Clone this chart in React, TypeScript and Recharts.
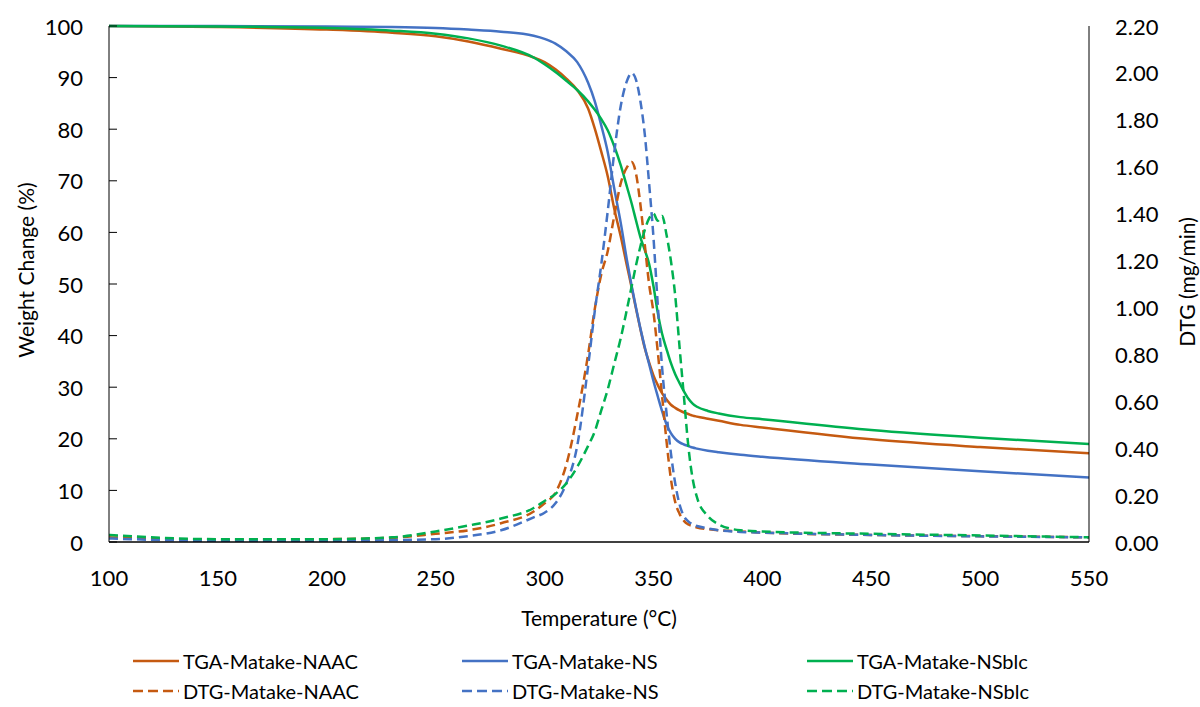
import { ComposedChart, Line, XAxis, YAxis } from "recharts";

const temps = [100, 150, 200, 230, 250, 265, 280, 295, 300, 305, 310, 315, 320, 323, 326, 329, 332, 335, 338, 340, 342, 344, 346, 348, 350, 352, 354, 356, 358, 360, 362, 364, 366, 368, 370, 375, 380, 390, 400, 450, 500, 550];

// weight change (%)
const tgaNaac = [100, 99.8, 99.3, 98.7, 98.0, 97.0, 95.6, 93.9, 93.0, 91.6, 89.8, 87.6, 84.0, 80.2, 75.7, 70.9, 64.6, 59.2, 53.2, 49.3, 45.2, 41.3, 37.6, 34.8, 32.3, 30.4, 28.8, 27.6, 26.6, 26.0, 25.5, 25.1, 24.8, 24.5, 24.3, 23.9, 23.5, 22.7, 22.2, 19.9, 18.4, 17.2];
const tgaNs = [100, 100, 99.9, 99.8, 99.6, 99.3, 98.9, 98.1, 97.5, 96.6, 95.1, 93.0, 89.0, 85.5, 80.8, 75.6, 68.5, 61.8, 54.2, 49.6, 45.4, 41.4, 37.8, 34.5, 31.2, 28.2, 25.3, 22.8, 21.1, 20.0, 19.3, 18.9, 18.6, 18.3, 18.1, 17.7, 17.4, 16.9, 16.5, 15.0, 13.7, 12.5];
const tgaNsblc = [100, 99.9, 99.6, 99.1, 98.5, 97.6, 96.2, 93.9, 92.6, 91.1, 89.4, 87.6, 85.4, 83.8, 82.0, 79.8, 76.7, 73.0, 68.6, 65.6, 62.3, 59.1, 56.6, 53.9, 49.6, 44.4, 40.3, 37.4, 34.7, 32.5, 30.8, 29.2, 27.8, 26.8, 26.2, 25.4, 24.9, 24.2, 23.8, 21.7, 20.2, 19.0];

// DTG (mg/min)
const dtgNaac = [0.02, 0.01, 0.012, 0.018, 0.035, 0.05, 0.08, 0.13, 0.165, 0.21, 0.33, 0.54, 0.8, 0.99, 1.14, 1.24, 1.39, 1.53, 1.6, 1.62, 1.57, 1.44, 1.27, 1.1, 0.98, 0.81, 0.62, 0.43, 0.27, 0.17, 0.12, 0.09, 0.075, 0.068, 0.062, 0.055, 0.05, 0.045, 0.04, 0.03, 0.025, 0.02];
const dtgNs = [0.015, 0.005, 0.005, 0.008, 0.012, 0.025, 0.05, 0.105, 0.125, 0.165, 0.25, 0.41, 0.75, 0.98, 1.18, 1.41, 1.66, 1.86, 1.97, 2.0, 1.97, 1.88, 1.74, 1.53, 1.3, 1.01, 0.74, 0.55, 0.38, 0.25, 0.16, 0.11, 0.088, 0.075, 0.068, 0.058, 0.05, 0.043, 0.04, 0.03, 0.024, 0.02];
const dtgNsblc = [0.03, 0.012, 0.012, 0.02, 0.045, 0.07, 0.1, 0.145, 0.175, 0.205, 0.25, 0.32, 0.41, 0.47, 0.56, 0.65, 0.76, 0.87, 1.0, 1.09, 1.18, 1.26, 1.33, 1.38, 1.4, 1.37, 1.39, 1.31, 1.2, 1.05, 0.83, 0.62, 0.41, 0.27, 0.19, 0.11, 0.075, 0.05, 0.045, 0.035, 0.028, 0.02];

const xTicks = [100, 150, 200, 250, 300, 350, 400, 450, 500, 550];
const leftTicks = [0, 10, 20, 30, 40, 50, 60, 70, 80, 90, 100];
const rightTicks = [0, 0.2, 0.4, 0.6, 0.8, 1.0, 1.2, 1.4, 1.6, 1.8, 2.0, 2.2];

const ORANGE = "#C55A11";
const BLUE = "#4472C4";
const GREEN = "#00B050";
const FONT = "Lato, 'Open Sans', sans-serif";

const series = [
  { key: "tgaNaac", name: "TGA-Matake-NAAC", color: ORANGE, axis: "left", dashed: false },
  { key: "tgaNs", name: "TGA-Matake-NS", color: BLUE, axis: "left", dashed: false },
  { key: "tgaNsblc", name: "TGA-Matake-NSblc", color: GREEN, axis: "left", dashed: false },
  { key: "dtgNaac", name: "DTG-Matake-NAAC", color: ORANGE, axis: "right", dashed: true },
  { key: "dtgNs", name: "DTG-Matake-NS", color: BLUE, axis: "right", dashed: true },
  { key: "dtgNsblc", name: "DTG-Matake-NSblc", color: GREEN, axis: "right", dashed: true },
];

const data = temps.map((t, i) => ({
  t,
  tgaNaac: tgaNaac[i],
  tgaNs: tgaNs[i],
  tgaNsblc: tgaNsblc[i],
  dtgNaac: dtgNaac[i],
  dtgNs: dtgNs[i],
  dtgNsblc: dtgNsblc[i],
}));

const LeftTick = (props: any) => {
  const { x, y, payload } = props;
  return (
    <g>
      <line x1={x} x2={x + 8} y1={y} y2={y} stroke="#000" strokeWidth={1} />
      <text x={x - 26} y={y} textAnchor="end" dominantBaseline="central" fontSize={22} fontFamily={FONT} fill="#000">
        {payload.value}
      </text>
    </g>
  );
};

const RightTick = (props: any) => {
  const { x, y, payload } = props;
  return (
    <text x={x + 26} y={y} textAnchor="start" dominantBaseline="central" fontSize={22} fontFamily={FONT} fill="#000">
      {Number(payload.value).toFixed(2)}
    </text>
  );
};

const BottomTick = (props: any) => {
  const { x, y, payload } = props;
  return (
    <text x={x} y={y + 35} textAnchor="middle" dominantBaseline="central" fontSize={22} fontFamily={FONT} fill="#000">
      {payload.value}
    </text>
  );
};

const LegendSample = ({ color, dashed }: { color: string; dashed: boolean }) => (
  <svg width={46} height={6} style={{ display: "block" }}>
    <line x1={0} x2={46} y1={3} y2={3} stroke={color} strokeWidth={2.5} strokeDasharray={dashed ? "10 5" : undefined} />
  </svg>
);

const legendCols = [133, 462, 807];
const legendRows = [661, 691];

export default function App() {
  return (
    <div style={{ position: "absolute", left: 0, top: 0, width: 1200, height: 707, background: "#fff", fontFamily: FONT }}>
      <ComposedChart width={1200} height={707} data={data} margin={{ top: 26, right: 0, bottom: 75, left: 0 }}>
        <XAxis
          dataKey="t"
          type="number"
          domain={[100, 550]}
          ticks={xTicks}
          allowDataOverflow
          height={90}
          tickLine={false}
          tickSize={0}
          tickMargin={0}
          tick={<BottomTick />}
          axisLine={{ stroke: "#000", strokeWidth: 1.5 }}
          label={{
            content: () => (
              <text x={599} y={617} textAnchor="middle" dominantBaseline="central" fontSize={21} fontFamily={FONT} fill="#000">
                Temperature (°C)
              </text>
            ),
          }}
        />
        <YAxis
          yAxisId="left"
          orientation="left"
          domain={[0, 100]}
          ticks={leftTicks}
          width={109}
          tickLine={false}
          tickSize={0}
          tickMargin={0}
          tick={<LeftTick />}
          axisLine={{ stroke: "#000", strokeWidth: 1 }}
          label={{
            content: () => (
              <text x={25} y={270} transform="rotate(-90 25 270)" textAnchor="middle" dominantBaseline="central" fontSize={21} fontFamily={FONT} fill="#000">
                Weight Change (%)
              </text>
            ),
          }}
        />
        <YAxis
          yAxisId="right"
          orientation="right"
          domain={[0, 2.2]}
          ticks={rightTicks}
          width={111}
          tickLine={false}
          tickSize={0}
          tickMargin={0}
          tick={<RightTick />}
          axisLine={{ stroke: "#000", strokeWidth: 1 }}
          label={{
            content: () => (
              <text x={1186} y={282} transform="rotate(-90 1186 282)" textAnchor="middle" dominantBaseline="central" fontSize={21} fontFamily={FONT} fill="#000">
                DTG (mg/min)
              </text>
            ),
          }}
        />
        {series.map((s) => (
          <Line
            key={s.key}
            yAxisId={s.axis}
            dataKey={s.key}
            name={s.name}
            type="monotone"
            stroke={s.color}
            strokeWidth={2.5}
            strokeDasharray={s.dashed ? "9 5" : undefined}
            dot={false}
            activeDot={false}
            isAnimationActive={false}
          />
        ))}
      </ComposedChart>
      {series.map((s, i) => (
        <div
          key={s.key}
          style={{
            position: "absolute",
            left: legendCols[i % 3],
            top: legendRows[Math.floor(i / 3)] - 13,
            height: 26,
            display: "flex",
            alignItems: "center",
            gap: 4,
            fontSize: 20,
            color: "#000",
            whiteSpace: "nowrap",
          }}
        >
          <LegendSample color={s.color} dashed={s.dashed} />
          <span>{s.name}</span>
        </div>
      ))}
    </div>
  );
}
